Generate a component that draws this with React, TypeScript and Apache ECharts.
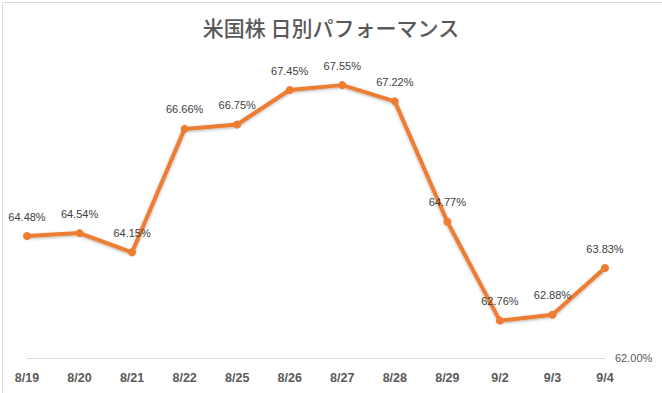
import React, { useEffect, useRef } from "react";
import * as echarts from "echarts";

const categories = ["8/19", "8/20", "8/21", "8/22", "8/25", "8/26", "8/27", "8/28", "8/29", "9/2", "9/3", "9/4"];
const values = [64.48, 64.54, 64.15, 66.66, 66.75, 67.45, 67.55, 67.22, 64.77, 62.76, 62.88, 63.83];
const yMin = 62;
const yMax = 68;
const title = "米国株 日別パフォーマンス";

export default function App() {
  const ref = useRef<HTMLDivElement>(null);
  useEffect(() => {
    if (!ref.current) return;
    const chart = echarts.init(ref.current, undefined, { renderer: "svg" });
    chart.setOption({
      animation: false,
      backgroundColor: "#ffffff",
      title: {
        text: title,
        left: "center",
        top: 11,
        textStyle: {
          fontFamily: "Noto Sans CJK JP",
          fontSize: 21,
          fontWeight: 500,
          color: "#595959",
        },
      },
      graphic: [
        {
          type: "rect",
          left: 0,
          top: 0,
          shape: { x: 0.5, y: 0.5, width: 661, height: 392 },
          style: { fill: "none", stroke: "#d9d9d9", lineWidth: 1 },
          silent: true,
        },
      ],
      grid: { left: 27, right: 57, top: 63, bottom: 35, containLabel: false },
      xAxis: {
        type: "category",
        data: categories,
        boundaryGap: false,
        axisLine: { show: true, lineStyle: { color: "#d9d9d9", width: 1 } },
        axisTick: { show: false },
        axisLabel: {
          margin: 13,
          fontFamily: "Liberation Sans",
          fontSize: 12.5,
          fontWeight: "bold",
          color: "#595959",
        },
        splitLine: { show: false },
      },
      yAxis: {
        type: "value",
        position: "right",
        min: yMin,
        max: yMax,
        interval: 6,
        axisLine: { show: false },
        axisTick: { show: false },
        splitLine: { show: false },
        axisLabel: {
          margin: 10,
          fontFamily: "Liberation Sans",
          fontSize: 11,
          color: "#595959",
          formatter: (v: number) => (v === yMin ? v.toFixed(2) + "%" : ""),
        },
      },
      series: [
        {
          type: "line",
          data: values,
          symbol: "circle",
          symbolSize: 8,
          lineStyle: {
            color: "#ED7D31",
            width: 4,
            shadowColor: "rgba(0,0,0,0.3)",
            shadowBlur: 3,
            shadowOffsetY: 1,
          },
          itemStyle: { color: "#ED7D31" },
          label: {
            show: true,
            position: "top",
            distance: 10,
            fontFamily: "Liberation Sans",
            fontSize: 11,
            color: "#404040",
            formatter: (p: any) => Number(p.value).toFixed(2) + "%",
          },
        },
      ],
    });
    return () => chart.dispose();
  }, []);
  return (
    <div
      ref={ref}
      style={{ position: "fixed", left: 0, top: 0, width: 662, height: 393 }}
    />
  );
}
